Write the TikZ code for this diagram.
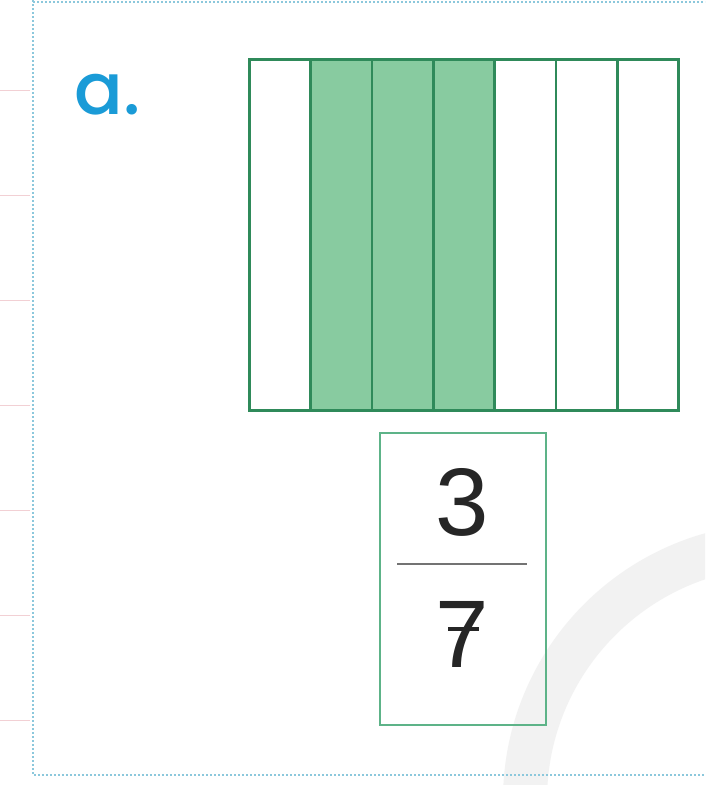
\documentclass[tikz,border=0pt]{standalone}
\usepackage{fontspec}
\newfontfamily\labelfont{Poppins}[BoldFont=* Medium]
\newfontfamily\numfont{Liberation Sans}
\definecolor{gridgreen}{HTML}{2F8A5A}
\definecolor{shadegreen}{HTML}{88CBA0}
\definecolor{boxgreen}{HTML}{5DB388}
\definecolor{labelblue}{HTML}{1A9BD7}
\definecolor{dotblue}{HTML}{8CC8DC}
\definecolor{tickpink}{HTML}{F2D0D4}
\definecolor{wmgray}{HTML}{F2F2F2}
\begin{document}
\begin{tikzpicture}[x=1pt,y=-1pt,
  cell/.style={draw=gridgreen,line width=2.8pt,minimum width=61.3pt,minimum height=351pt,inner sep=0pt,anchor=north west},
  shaded/.style={cell,fill=shadegreen},
  plain/.style={cell,fill=white},
  fracbox/.style={draw=boxgreen,line width=1.6pt,minimum width=166pt,minimum height=292pt,inner sep=0pt,anchor=north west},
  digit/.style={font=\numfont\fontsize{96}{96}\selectfont,text=black!85,inner sep=0pt}]
\useasboundingbox (0,0) rectangle (705,785);
\fill[white] (0,0) rectangle (705,785);
% watermark arc
\begin{scope}
\clip (0,0) rectangle (705,785);
\draw[wmgray,line width=44pt] (780,800) circle[radius=255];
\end{scope}
% page decorations
\foreach \yy in {90,195,300,405,510,615,720}
  \draw[tickpink,line width=1pt] (0,\yy) -- (30,\yy);
\draw[dotblue,line width=2pt,dotted] (33,2) -- (705,2);
\draw[dotblue,line width=2pt,dotted] (33,0) -- (33,775) -- (705,775);
% label
\node[font=\labelfont\bfseries\fontsize{72}{72}\selectfont,text=labelblue,anchor=base west,inner sep=0pt] (lbl) at (74,114) {a.};
% strip of 7 cells
\node[plain]  (c1) at (248.0,58) {};
\node[shaded] (c2) at (309.3,58) {};
\node[shaded] (c3) at (370.6,58) {};
\node[shaded] (c4) at (431.9,58) {};
\node[plain]  (c5) at (493.2,58) {};
\node[plain]  (c6) at (554.5,58) {};
\node[plain]  (c7) at (615.8,58) {};
% fraction box
\node[fracbox] (fb) at (379,432) {};
\node[digit,anchor=base] (num) at (462,535) {3};
\node[digit,anchor=base] (den) at (462,667) {7};
\draw[black!55,line width=1.6pt] (397,564) -- (527,564);
\draw[black!85,line width=3.2pt] ([xshift=-14pt,yshift=38pt]den.base) -- ([xshift=17pt,yshift=38pt]den.base);
\end{tikzpicture}
\end{document}
